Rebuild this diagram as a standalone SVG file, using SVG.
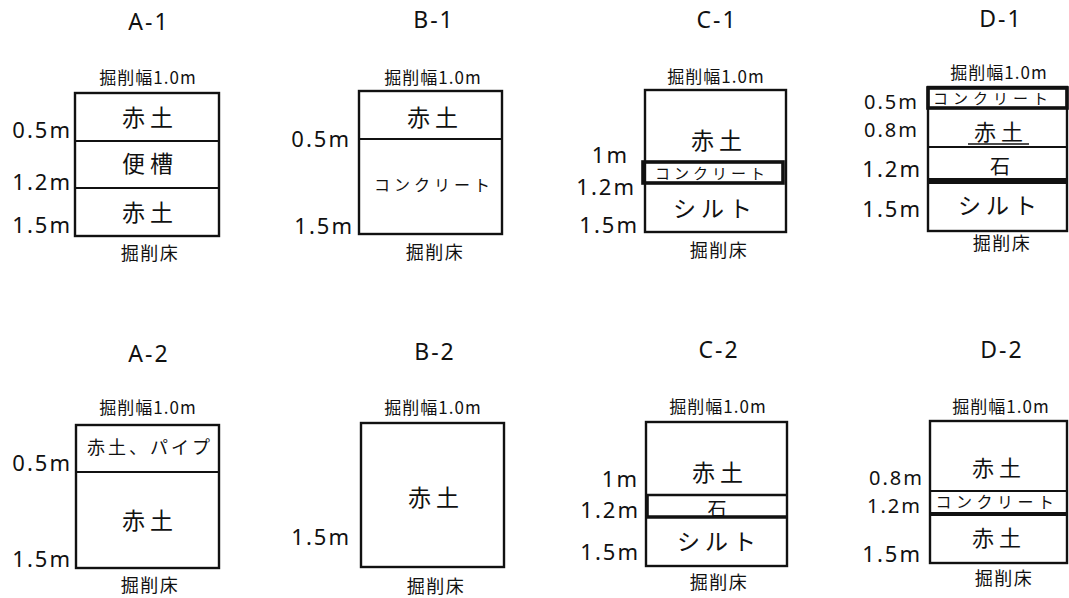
<svg xmlns="http://www.w3.org/2000/svg" width="1069" height="598" viewBox="0 0 1069 598">
<style>
.bg{fill:#fff}
.box{fill:none;stroke:#111;stroke-width:2.4}
.ln{stroke:#111;stroke-width:2.2;fill:none}
.thk{stroke:#111;stroke-width:3.6;fill:none}
.ttl{font-family:"Noto Sans","Liberation Sans",sans-serif;font-size:23px;fill:#111;text-anchor:middle;letter-spacing:2px}
.hdr{font-family:"Noto Sans CJK JP","Noto Sans",sans-serif;font-size:17px;fill:#111;text-anchor:middle;letter-spacing:1px}
.dep{font-family:"Noto Sans","Liberation Sans",sans-serif;font-size:22px;fill:#111;text-anchor:end;letter-spacing:2px}
.dsm{font-size:20px}
.flr{font-family:"Noto Sans CJK JP",sans-serif;font-size:18px;fill:#111;text-anchor:middle;letter-spacing:1.5px}
.lay{font-family:"Noto Sans CJK JP",sans-serif;font-size:23px;fill:#111;text-anchor:middle;letter-spacing:5px}
.sml{font-family:"Noto Sans CJK JP",sans-serif;font-size:16px;fill:#111;text-anchor:middle;letter-spacing:4px}
</style>
<rect class="bg" x="0" y="0" width="1069" height="598"/>

<g id="A-1">
<text class="ttl" x="149" y="30">A-1</text>
<text class="hdr" x="148" y="84">掘削幅1.0m</text>
<rect class="box" x="75" y="93" width="144" height="143"/>
<line class="ln" x1="75" y1="141" x2="219" y2="141"/>
<line class="ln" x1="75" y1="188" x2="219" y2="188"/>
<text class="lay" x="150" y="126">赤土</text>
<text class="lay" x="150" y="172">便槽</text>
<text class="lay" x="150" y="221">赤土</text>
<text class="dep" x="72" y="138">0.5m</text>
<text class="dep" x="72" y="190">1.2m</text>
<text class="dep" x="72" y="233">1.5m</text>
<text class="flr" x="150" y="260">掘削床</text>
</g>

<g id="B-1">
<text class="ttl" x="434" y="28">B-1</text>
<text class="hdr" x="433" y="84">掘削幅1.0m</text>
<rect class="box" x="359" y="91" width="143" height="143"/>
<line class="ln" x1="359" y1="139" x2="502" y2="139"/>
<text class="lay" x="435" y="126">赤土</text>
<text class="sml" x="434" y="191">コンクリート</text>
<text class="dep" x="351" y="147">0.5m</text>
<text class="dep" x="354" y="234">1.5m</text>
<text class="flr" x="435" y="259">掘削床</text>
</g>

<g id="C-1">
<text class="ttl" x="717" y="28">C-1</text>
<text class="hdr" x="716" y="83">掘削幅1.0m</text>
<rect class="box" x="645" y="90" width="141" height="142"/>
<text class="lay" x="719" y="149">赤土</text>
<text class="sml" x="712" y="179" style="font-size:15px">コンクリート</text>
<rect class="thk" x="643" y="162" width="140" height="21"/>
<text class="lay" x="715" y="217">シルト</text>
<text class="dep" x="629" y="163">1m</text>
<text class="dep" x="636" y="195">1.2m</text>
<text class="dep" x="639" y="233">1.5m</text>
<text class="flr" x="719" y="257">掘削床</text>
</g>

<g id="D-1">
<text class="ttl" x="1001" y="27">D-1</text>
<text class="hdr" x="999" y="79">掘削幅1.0m</text>
<rect class="box" x="928" y="87" width="139" height="144"/>
<rect class="thk" x="928" y="88" width="139" height="20"/>
<text class="sml" x="993" y="104" style="font-size:15px;letter-spacing:5px">コンクリート</text>
<text class="lay" x="1001" y="140" style="font-size:22px">赤土</text>
<line class="ln" x1="968" y1="144" x2="1029" y2="144" style="stroke-width:1.5"/>
<line class="ln" x1="928" y1="147" x2="1067" y2="147"/>
<text class="lay" x="1000" y="174" style="font-size:20px;letter-spacing:0">石</text>
<rect x="928" y="178" width="139" height="6" fill="#111"/>
<text class="lay" x="1000" y="214">シルト</text>
<text class="dep dsm" x="919" y="109">0.5m</text>
<text class="dep dsm" x="919" y="137">0.8m</text>
<text class="dep" x="922" y="177">1.2m</text>
<text class="dep" x="922" y="217">1.5m</text>
<text class="flr" x="1002" y="250">掘削床</text>
</g>

<g id="A-2">
<text class="ttl" x="149" y="362">A-2</text>
<text class="hdr" x="148" y="414">掘削幅1.0m</text>
<rect class="box" x="76" y="425" width="143" height="143"/>
<line class="ln" x1="76" y1="472" x2="219" y2="472"/>
<text class="lay" x="150" y="454" style="font-size:18px;letter-spacing:3px">赤土、パイプ</text>
<text class="lay" x="150" y="529">赤土</text>
<text class="dep" x="72" y="471">0.5m</text>
<text class="dep" x="72" y="567">1.5m</text>
<text class="flr" x="150" y="592">掘削床</text>
</g>

<g id="B-2">
<text class="ttl" x="435" y="360">B-2</text>
<text class="hdr" x="433" y="414">掘削幅1.0m</text>
<rect class="box" x="361" y="423" width="143" height="144"/>
<text class="lay" x="436" y="506">赤土</text>
<text class="dep" x="351" y="545">1.5m</text>
<text class="flr" x="436" y="593">掘削床</text>
</g>

<g id="C-2">
<text class="ttl" x="719" y="358">C-2</text>
<text class="hdr" x="718" y="413">掘削幅1.0m</text>
<rect class="box" x="646" y="422" width="141" height="144"/>
<text class="lay" x="720" y="481">赤土</text>
<text class="lay" x="717" y="516" style="font-size:19px;letter-spacing:0">石</text>
<line class="ln" x1="646" y1="495" x2="787" y2="495" style="stroke-width:2.6"/>
<line class="thk" x1="646" y1="517" x2="787" y2="517"/>
<line class="thk" x1="647" y1="495" x2="647" y2="517"/>
<text class="lay" x="719" y="550">シルト</text>
<text class="dep" x="639" y="487">1m</text>
<text class="dep" x="640" y="518">1.2m</text>
<text class="dep" x="640" y="560">1.5m</text>
<text class="flr" x="719" y="589">掘削床</text>
</g>

<g id="D-2">
<text class="ttl" x="1002" y="358">D-2</text>
<text class="hdr" x="1001" y="413">掘削幅1.0m</text>
<rect class="box" x="930" y="421" width="137" height="142"/>
<text class="lay" x="999" y="476" style="font-size:22px">赤土</text>
<line class="ln" x1="930" y1="491" x2="1067" y2="491"/>
<text class="sml" x="997" y="508" style="letter-spacing:4.5px">コンクリート</text>
<line class="ln" x1="930" y1="514" x2="1067" y2="514" style="stroke-width:4"/>
<text class="lay" x="999" y="546" style="font-size:22px">赤土</text>
<text class="dep dsm" x="924" y="485">0.8m</text>
<text class="dep dsm" x="922" y="513">1.2m</text>
<text class="dep" x="922" y="562">1.5m</text>
<text class="flr" x="1004" y="585">掘削床</text>
</g>
</svg>
